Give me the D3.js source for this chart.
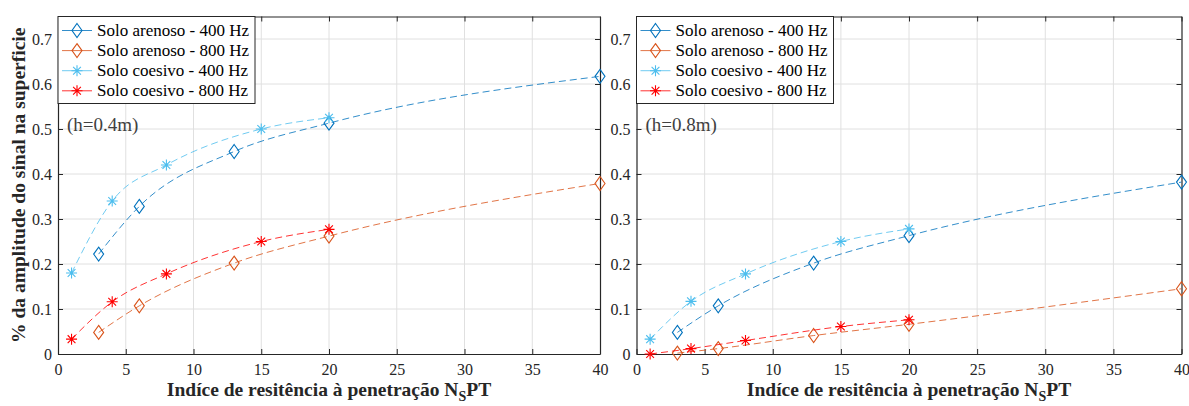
<!DOCTYPE html>
<html>
<head>
<meta charset="utf-8">
<script src="https://cdn.jsdelivr.net/npm/d3@7"></script>
<style>
  body { margin: 0; background: #fff; }
  svg text { font-family: "Liberation Serif", "Times New Roman", serif; }
</style>
</head>
<body>
<div class="chart"></div>
<script>
// 데이터
const xArenoso = [3, 6, 13, 20, 40];
const xCoesivo = [1, 4, 8, 15, 20];

// h = 0.4m
const arenoso400_04 = [0.222, 0.328, 0.450, 0.513, 0.617];
const arenoso800_04 = [0.048, 0.107, 0.202, 0.262, 0.379];
const coesivo400_04 = [0.180, 0.340, 0.420, 0.500, 0.525];
const coesivo800_04 = [0.033, 0.116, 0.178, 0.250, 0.277];

// h = 0.8m
const arenoso400_08 = [0.048, 0.107, 0.202, 0.263, 0.382];
const arenoso800_08 = [0.002, 0.012, 0.041, 0.066, 0.145];
const coesivo400_08 = [0.033, 0.117, 0.178, 0.250, 0.278];
const coesivo800_08 = [0.000, 0.012, 0.030, 0.061, 0.076];

const xTicks = [0, 5, 10, 15, 20, 25, 30, 35, 40];
const yTicks = [0, 0.1, 0.2, 0.3, 0.4, 0.5, 0.6, 0.7];
const seriesNames = ['Solo arenoso - 400 Hz', 'Solo arenoso - 800 Hz', 'Solo coesivo - 400 Hz', 'Solo coesivo - 800 Hz'];
const seriesColors = ['#0072BD', '#D95319', '#4DBEEE', '#FF0000'];
const seriesMarkers = ['diamond', 'diamond', 'star', 'star'];
const panelLabels = ['(h=0.4m)', '(h=0.8m)'];

const W = 1189, H = 406;
const svg = d3.select('.chart').append('svg')
  .attr('width', W).attr('height', H);

const panels = [
  {left: 58, right: 600, label: panelLabels[0],
   series: [[xArenoso, arenoso400_04], [xArenoso, arenoso800_04], [xCoesivo, coesivo400_04], [xCoesivo, coesivo800_04]]},
  {left: 636.5, right: 1181.5, label: panelLabels[1],
   series: [[xArenoso, arenoso400_08], [xArenoso, arenoso800_08], [xCoesivo, coesivo400_08], [xCoesivo, coesivo800_08]]}
];
const plotTop = 16.5, plotBottom = 354;
const axisColor = '#262626';
const serif = '"Liberation Serif", "Times New Roman", serif';

// 마커 그리기
function drawMarker(g, type, color) {
  if (type === 'diamond') {
    g.append('path').attr('d', 'M0,-7 L5,0 L0,7 L-5,0 Z')
      .attr('fill', 'none').attr('stroke', color).attr('stroke-width', 1.1);
  } else {
    const r = 5.5;
    let d = '';
    [0, 45, 90, 135].forEach(a => {
      const t = a * Math.PI / 180;
      d += `M${-r * Math.cos(t)},${-r * Math.sin(t)} L${r * Math.cos(t)},${r * Math.sin(t)} `;
    });
    g.append('path').attr('d', d).attr('stroke', color).attr('stroke-width', 1.1).attr('fill', 'none');
  }
}

panels.forEach((p, pi) => {
  const x = d3.scaleLinear().domain([0, 40]).range([p.left, p.right]);
  const y = d3.scaleLinear().domain([0, 0.75]).range([plotBottom, plotTop]);
  const g = svg.append('g');

  // 그리드
  g.append('g').selectAll('line').data(xTicks.slice(1, -1)).join('line')
    .attr('x1', d => x(d)).attr('x2', d => x(d)).attr('y1', plotTop).attr('y2', plotBottom)
    .attr('stroke', '#e0e0e0').attr('stroke-width', 1);
  g.append('g').selectAll('line').data(yTicks.slice(1)).join('line')
    .attr('x1', p.left).attr('x2', p.right).attr('y1', d => y(d)).attr('y2', d => y(d))
    .attr('stroke', '#e0e0e0').attr('stroke-width', 1);

  // 축
  const xAxis = g.append('g').attr('transform', `translate(0,${plotBottom})`)
    .call(d3.axisBottom(x).tickValues(xTicks).tickSizeInner(-5).tickSizeOuter(0).tickPadding(10));
  const yAxis = g.append('g').attr('transform', `translate(${p.left},0)`)
    .call(d3.axisLeft(y).tickValues(yTicks).tickFormat(d => d === 0 ? '0' : d3.format('.1f')(d)).tickSizeInner(-5).tickSizeOuter(0).tickPadding(6));
  const xTop = g.append('g').attr('transform', `translate(0,${plotTop})`)
    .call(d3.axisTop(x).tickValues(xTicks).tickSizeInner(-5).tickSizeOuter(0).tickFormat(''));
  const yRight = g.append('g').attr('transform', `translate(${p.right},0)`)
    .call(d3.axisRight(y).tickValues(yTicks).tickSizeInner(-5).tickSizeOuter(0).tickFormat(''));
  [xAxis, yAxis, xTop, yRight].forEach(a => {
    a.attr('font-family', serif);
    a.selectAll('path').attr('stroke', axisColor).attr('stroke-width', 1.2);
    a.selectAll('line').attr('stroke', axisColor);
    a.selectAll('text').attr('fill', axisColor).attr('font-size', '16px');
  });

  // 곡선 + 마커
  p.series.forEach((s, si) => {
    const pts = s[0].map((v, i) => [v, s[1][i]]);
    const line = d3.line().x(d => x(d[0])).y(d => y(d[1])).curve(d3.curveMonotoneX);
    g.append('path').datum(pts).attr('d', line)
      .attr('fill', 'none').attr('stroke', seriesColors[si]).attr('stroke-opacity', 0.8)
      .attr('stroke-width', 1).attr('stroke-dasharray', '7,4');
    pts.forEach(d => {
      const m = g.append('g').attr('transform', `translate(${x(d[0])},${y(d[1])})`);
      drawMarker(m, seriesMarkers[si], seriesColors[si]);
    });
  });

  // 라벨 (h=...)
  g.append('text').attr('x', p.left + 9).attr('y', 131)
    .attr('font-size', '19px').attr('fill', '#404040').text(p.label);

  // 범례
  const lg = g.append('g').attr('transform', `translate(${p.left},${plotTop})`);
  lg.append('rect').attr('x', 0).attr('y', 0).attr('width', 197).attr('height', 87)
    .attr('fill', '#fff').attr('stroke', axisColor).attr('stroke-width', 1);
  seriesNames.forEach((name, i) => {
    const yy = 14 + i * 20.1;
    lg.append('line').attr('x1', 4).attr('x2', 34).attr('y1', yy).attr('y2', yy)
      .attr('stroke', seriesColors[i]).attr('stroke-opacity', 0.8).attr('stroke-width', 1);
    const m = lg.append('g').attr('transform', `translate(19,${yy})`);
    drawMarker(m, seriesMarkers[i], seriesColors[i]);
    lg.append('text').attr('x', 39).attr('y', yy + 5.5).attr('font-size', '17px')
      .attr('fill', '#000').text(name);
  });

  // x축 제목
  const xt = g.append('text').attr('x', (p.left + p.right) / 2).attr('y', 396)
    .attr('text-anchor', 'middle').attr('font-size', '19.5px').attr('font-weight', 'bold')
    .attr('fill', axisColor);
  xt.append('tspan').text('Indíce de resitência à penetração N');
  xt.append('tspan').attr('dy', 5).attr('font-size', '14px').text('S');
  xt.append('tspan').attr('dy', -5).text('PT');
});

// y축 제목
svg.append('text')
  .attr('transform', `translate(25,${(plotTop + plotBottom) / 2}) rotate(-90)`)
  .attr('text-anchor', 'middle').attr('font-size', '19.5px').attr('font-weight', 'bold')
  .attr('fill', axisColor).text('% da amplitude do sinal na superficie');
</script>
</body>
</html>
